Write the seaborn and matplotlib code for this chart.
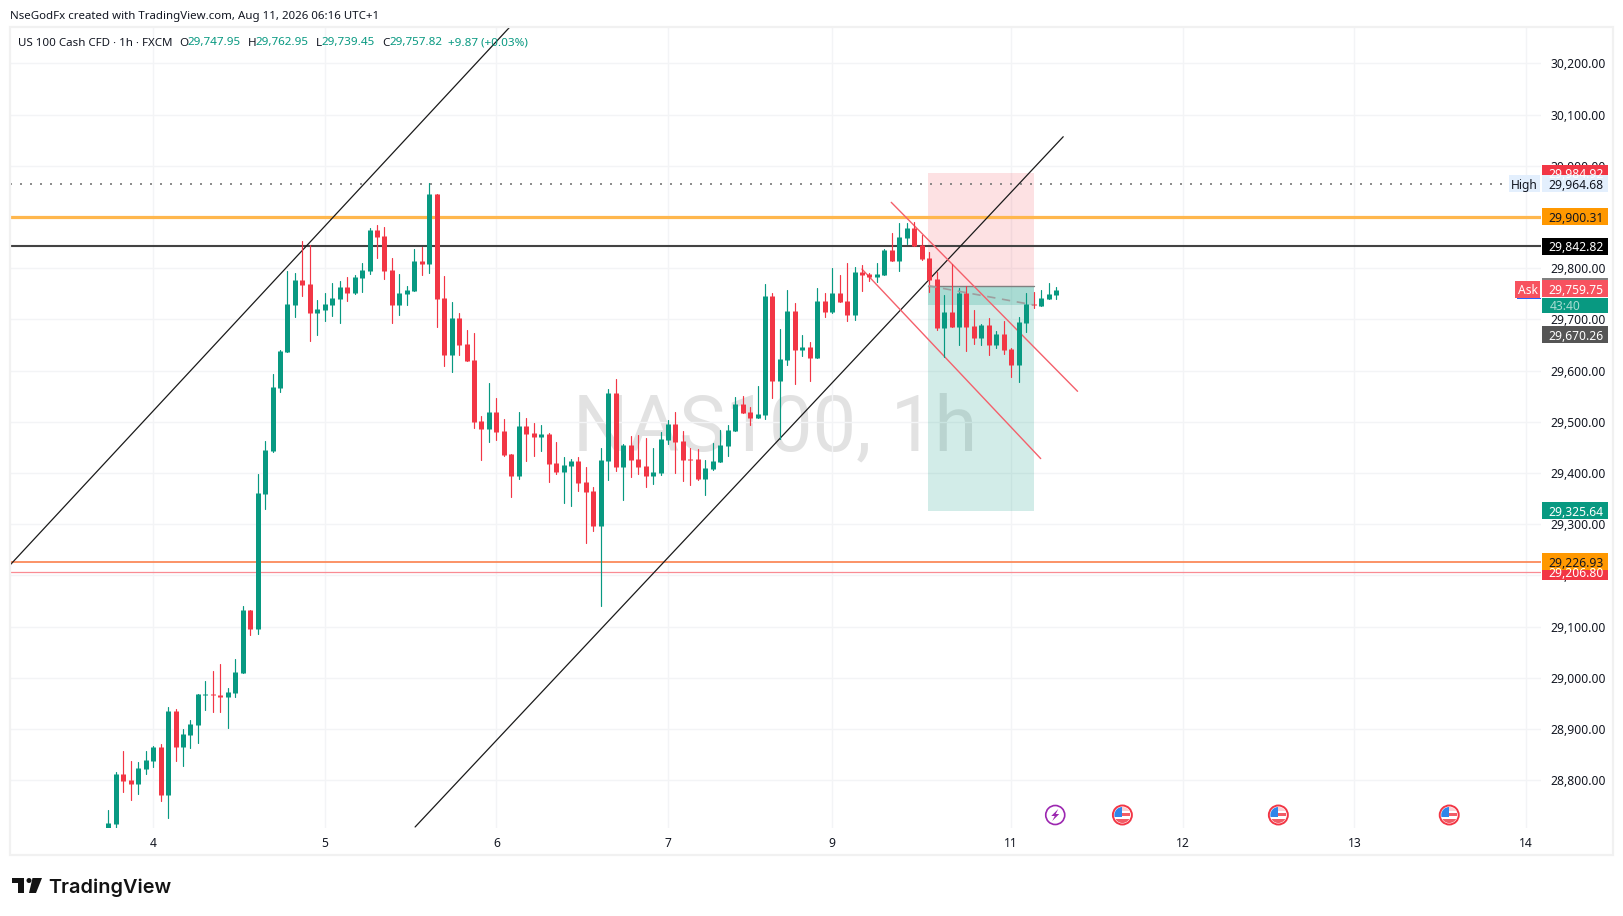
import pandas as pd
import seaborn as sns
import matplotlib
matplotlib.use("Agg")
import matplotlib.pyplot as plt
from matplotlib.patches import Rectangle, Circle, Polygon

sns.set_theme(style="white")
plt.rcParams["font.family"] = ["Noto Sans", "DejaVu Sans"]

UP = "#089981"
DOWN = "#f23645"
INK = "#131722"

# hourly candles
opens = [28704, 28714, 28812, 28800, 28792, 28822, 28837, 28865, 28771, 28935, 28865, 28888, 28908, 28966, 28968, 28966,
         28962, 28970, 29009, 29132, 29095, 29359, 29443, 29566, 29636, 29728, 29777, 29769, 29712, 29718, 29728, 29740,
         29763, 29751, 29781, 29794, 29874, 29863, 29796, 29728, 29749, 29755, 29814, 29808, 29945, 29742, 29630, 29702,
         29652, 29620, 29501, 29486, 29519, 29482, 29437, 29394, 29492, 29478, 29470, 29476, 29419, 29402, 29413, 29423,
         29382, 29365, 29296, 29423, 29556, 29411, 29454, 29427, 29413, 29394, 29400, 29464, 29496, 29462, 29427, 29427,
         29388, 29408, 29421, 29453, 29482, 29535, 29519, 29507, 29513, 29745, 29579, 29620, 29716, 29640, 29646, 29624,
         29736, 29714, 29751, 29736, 29708, 29792, 29789, 29783, 29787, 29835, 29814, 29859, 29878, 29845, 29820, 29779,
         29683, 29714, 29685, 29751, 29687, 29664, 29689, 29650, 29671, 29642, 29611, 29693, 29730, 29726, 29740, 29748]
highs = [28742, 28815, 28857, 28837, 28835, 28857, 28867, 28871, 28943, 28939, 28900, 28917, 28968, 28994, 29013, 29027,
         28980, 29037, 29140, 29132, 29398, 29462, 29593, 29640, 29794, 29790, 29853, 29845, 29738, 29751, 29771, 29775,
         29783, 29786, 29810, 29878, 29884, 29880, 29820, 29788, 29765, 29837, 29841, 29966, 29945, 29784, 29734, 29712,
         29679, 29673, 29511, 29576, 29546, 29505, 29437, 29519, 29507, 29497, 29494, 29478, 29460, 29431, 29427, 29431,
         29411, 29372, 29449, 29564, 29583, 29456, 29472, 29474, 29468, 29449, 29480, 29503, 29519, 29482, 29449, 29447,
         29425, 29458, 29484, 29494, 29548, 29550, 29529, 29570, 29769, 29751, 29681, 29757, 29732, 29669, 29656, 29761,
         29751, 29800, 29787, 29810, 29802, 29806, 29790, 29810, 29837, 29869, 29888, 29888, 29890, 29865, 29831, 29792,
         29747, 29808, 29761, 29765, 29718, 29691, 29703, 29677, 29697, 29644, 29705, 29751, 29753, 29757, 29771, 29763]
lows = [28704, 28704, 28777, 28761, 28773, 28812, 28826, 28759, 28726, 28837, 28828, 28863, 28872, 28937, 28933, 28933,
        28902, 28962, 29009, 29083, 29085, 29330, 29441, 29558, 29636, 29704, 29746, 29658, 29669, 29697, 29706, 29693,
        29736, 29749, 29753, 29788, 29820, 29779, 29693, 29708, 29728, 29755, 29786, 29790, 29685, 29609, 29597, 29630,
        29619, 29488, 29425, 29460, 29464, 29433, 29353, 29388, 29423, 29433, 29443, 29382, 29398, 29341, 29335, 29365,
        29263, 29287, 29140, 29386, 29404, 29347, 29392, 29398, 29372, 29378, 29396, 29456, 29400, 29384, 29376, 29386,
        29357, 29406, 29421, 29433, 29482, 29517, 29493, 29507, 29505, 29546, 29466, 29611, 29574, 29628, 29579, 29624,
        29704, 29712, 29734, 29697, 29699, 29755, 29775, 29773, 29787, 29814, 29794, 29847, 29843, 29816, 29753, 29679,
        29626, 29685, 29650, 29638, 29652, 29650, 29630, 29644, 29632, 29587, 29578, 29675, 29722, 29726, 29740, 29739]
closes = [28716, 28812, 28798, 28792, 28824, 28839, 28865, 28771, 28935, 28865, 28890, 28910, 28968, 28968, 28966, 28962,
          28972, 29011, 29132, 29095, 29361, 29445, 29568, 29638, 29730, 29777, 29767, 29712, 29720, 29730, 29742, 29763,
          29751, 29783, 29796, 29874, 29861, 29794, 29728, 29751, 29757, 29814, 29808, 29945, 29740, 29630, 29702, 29650,
          29619, 29499, 29486, 29519, 29480, 29435, 29394, 29492, 29476, 29470, 29476, 29417, 29402, 29415, 29423, 29380,
          29363, 29296, 29425, 29556, 29411, 29454, 29425, 29411, 29394, 29402, 29466, 29496, 29460, 29425, 29425, 29388,
          29410, 29423, 29454, 29484, 29535, 29517, 29507, 29515, 29745, 29579, 29622, 29716, 29640, 29646, 29624, 29736,
          29714, 29751, 29734, 29708, 29792, 29787, 29783, 29789, 29835, 29814, 29861, 29878, 29843, 29818, 29777, 29683,
          29714, 29685, 29751, 29685, 29664, 29689, 29650, 29671, 29640, 29611, 29695, 29730, 29728, 29742, 29749, 29758]

# date ticks sit on these bar numbers
date_bars = [6, 29, 52, 75, 97, 121, 144, 167, 190]
date_labels = ["4", "5", "6", "7", "9", "11", "12", "13", "14"]
price_ticks = list(range(28800, 30201, 100))

# horizontal levels
high_level = 29964.68
orange_top = 29900.31
black_level = 29842.82
orange_low = 29226.93
red_low = 29206.80

# drawings, bar number and price
trend_a_x, trend_a_y = [-13.18, 53.94], [29220, 30273]
trend_b_x, trend_b_y = [41.11, 127.97], [28708.5, 30056.6]
red_a_x, red_a_y = [104.92, 129.89], [29928.5, 29559.4]
red_b_x, red_b_y = [101.0, 124.95], [29798, 29428]

# short position tool
pos_x = [109.87, 124.03]
pos_stop = 29984.92
pos_entry = 29765.6
pos_now = 29728
pos_target = 29325.64

# event markers along the bottom (bar numbers)
flag_bars = [135.9, 156.8, 179.7]
bolt_bar = 126.9

# candles, long format so seaborn draws them one unit at a time
df = pd.DataFrame({"bar": range(len(opens)), "o": opens, "h": highs, "l": lows, "c": closes})
df["side"] = ["up" if c >= o else "down" for o, c in zip(df["o"], df["c"])]
wicks = df.melt(id_vars=["bar", "side"], value_vars=["h", "l"], value_name="price")
bodies = df.melt(id_vars=["bar", "side"], value_vars=["o", "c"], value_name="price")
colors = {"up": UP, "down": DOWN}

fig = plt.figure(figsize=(16.23, 9.16), dpi=100, facecolor="white")
ax = fig.add_axes([10 / 1623, 1 - 828 / 916, 1531 / 1623, 801 / 916])
ax.set_xlim(-13.18, 192.0)
ax.set_ylim(28706.5, 30270.9)
ax.set_axisbelow(True)
ax.grid(True, color="#f3f4f6", lw=1.0)
for s in ax.spines.values():
    s.set_visible(False)

ax.text(0.4997, 0.4985, "NAS100, 1h", transform=ax.transAxes, ha="center", va="center",
        fontsize=56, color="#e2e2e2", zorder=0, family="Roboto")

# position zones
ax.fill_between(pos_x, pos_entry, pos_stop, color="#f23645", alpha=0.15, lw=0, zorder=1)
ax.fill_between(pos_x, pos_target, pos_entry, color=UP, alpha=0.18, lw=0, zorder=1)
ax.fill_between(pos_x, pos_now, pos_entry, color=UP, alpha=0.2, lw=0, zorder=1)
ax.plot(pos_x, [pos_entry, pos_entry], color="#808080", lw=1, zorder=2)
ax.plot(pos_x, [pos_entry, pos_now], color="#9e9e9e", lw=1.2, ls=(0, (5, 4)), zorder=4)

# levels
ax.plot([-13.18, 187.8], [high_level, high_level], color="#787878", lw=1.2, ls=(0, (1.2, 4.8)), zorder=2)
ax.axhline(orange_top, color="#ffb74d", lw=2.3, zorder=2)
ax.axhline(black_level, color="#434343", lw=1.5, zorder=2)
ax.axhline(orange_low, color="#fb8a5a", lw=1.3, zorder=2)
ax.axhline(red_low, color="#f98b93", lw=0.9, zorder=2)

ax.plot(trend_a_x, trend_a_y, color="#1a1a1a", lw=0.9, zorder=2)
ax.plot(trend_b_x, trend_b_y, color="#1a1a1a", lw=0.9, zorder=2)
ax.plot(red_a_x, red_a_y, color="#f4606b", lw=1.0, zorder=2)
ax.plot(red_b_x, red_b_y, color="#f4606b", lw=1.0, zorder=2)

sns.lineplot(data=wicks, x="bar", y="price", hue="side", units="bar", estimator=None, palette=colors,
             sort=False, legend=False, lw=0.85, ax=ax, zorder=3)
sns.lineplot(data=bodies, x="bar", y="price", hue="side", units="bar", estimator=None, palette=colors,
             sort=False, legend=False, lw=3.6, solid_capstyle="butt", ax=ax, zorder=3)

ax.set_xlabel("")
ax.set_ylabel("")
ax.set_xticks(date_bars)
ax.set_xticklabels(date_labels)
ax.set_yticks(price_ticks)
ax.set_yticklabels([f"{p:,.2f}" for p in price_ticks])
ax.yaxis.tick_right()
ax.tick_params(axis="y", length=0, pad=6.5, labelsize=8.7, labelcolor=INK)
ax.tick_params(axis="x", length=0, pad=6.5, labelsize=8.7, labelcolor=INK)

# overlay in pixels for the chart furniture
ov = fig.add_axes([0, 0, 1, 1], zorder=5)
ov.set_xlim(0, 1623)
ov.set_ylim(916, 0)
ov.axis("off")
ov.patch.set_alpha(0)


def py(price):
    return 916 - ax.transData.transform((0, price))[1]


def bx(bar):
    return ax.transData.transform((bar, 0))[0]


ov.add_patch(Rectangle((10, 27), 1603, 828, fill=False, ec="#f1f1f1", lw=1.6))


def tag(price, text, face, color, bold=False, h=17):
    y = py(price)
    ov.add_patch(Rectangle((1542, y - h / 2), 66, h, fc=face, ec="none"))
    ov.text(1576, y, text, ha="center", va="center_baseline", fontsize=8.7, color=color,
            fontweight="bold" if bold else "normal", clip_on=True)


tag(pos_stop, "29,984.92", DOWN, "white")
tag(high_level, "29,964.68", "#e3effd", INK)
ov.add_patch(Rectangle((1509, py(high_level) - 8.5), 31, 17, fc="#e3effd", ec="none"))
ov.text(1524.5, py(high_level), "High", ha="center", va="center_baseline", fontsize=8.7, color=INK)
tag(orange_top, "29,900.31", "#ff9800", INK)
tag(black_level, "29,842.82", "black", "white", bold=True)

ov.add_patch(Rectangle((1542, 278), 66, 4, fc="#808080", ec="none"))
tag(29759.75, "29,759.75", "#f7525f", "white")
ov.add_patch(Rectangle((1515, 281), 25, 17, fc="#f7525f", ec="none"))
ov.add_patch(Rectangle((1517, 297.5), 24, 1.2, fc="#2962ff", ec="none"))
ov.text(1527.5, 289.5, "Ask", ha="center", va="center_baseline", fontsize=8.7, color="white")
ov.add_patch(Rectangle((1542, 298), 66, 15, fc=UP, ec="none"))
ov.text(1550, 304.5, "43:40", ha="left", va="center_baseline", fontsize=8.7, color="#a8dcd2")
tag(29670.26, "29,670.26", "#555555", "white")

tag(pos_target, "29,325.64", UP, "white")
tag(red_low, "29,206.80", DOWN, "white")
tag(orange_low, "29,226.93", "#ff9800", INK)

# header lines
ov.text(10, 15, "NseGodFx created with TradingView.com, Aug 11, 2026 06:16 UTC+1", fontsize=8.25,
        color=INK, va="center_baseline")
ov.text(18, 41.5, "US 100 Cash CFD · 1h · FXCM", fontsize=8.3, color=INK, va="center_baseline")
legend_bits = [(179, "O", INK), (187, "29,747.95", UP), (247.5, "H", INK), (255.5, "29,762.95", UP),
               (316, "L", INK), (322, "29,739.45", UP), (382, "C", INK), (389, "29,757.82", UP),
               (448, "+9.87 (+0.03%)", UP)]
for x0, s, col in legend_bits:
    ov.text(x0, 41.5, s, fontsize=8.4, color=col, va="center_baseline")

# TradingView logo
ov.add_patch(Polygon([(12, 878), (24, 878), (24, 893), (18, 893), (18, 883), (12, 883)], fc="#131313", ec="none"))
ov.add_patch(Circle((29, 880.5), 2.5, fc="#131313", ec="none"))
ov.add_patch(Polygon([(32.5, 878), (42, 878), (36, 893), (29, 893)], fc="#131313", ec="none"))
ov.text(48.5, 886, "TradingView", fontsize=14.3, fontweight="semibold", family="Inter", color="#131313",
        va="center_baseline")

# event icons
y_ev = 815
x_bolt = bx(bolt_bar)
ov.add_patch(Circle((x_bolt, y_ev), 9.5, fc="white", ec="#9c27b0", lw=1.2))
ov.add_patch(Polygon([(x_bolt + 3, y_ev - 6), (x_bolt - 4, y_ev + 1), (x_bolt - 0.5, y_ev + 1),
                      (x_bolt - 3, y_ev + 6), (x_bolt + 4, y_ev - 1), (x_bolt + 0.5, y_ev - 1)],
                     fc="#9c27b0", ec="none"))
for b in flag_bars:
    x_f = bx(b)
    rim = Circle((x_f, y_ev), 9.5, fc="white", ec="#f23645", lw=1.4)
    ov.add_patch(rim)
    inner = Circle((x_f, y_ev), 8, transform=ov.transData)
    for y0, h, x0, w, col in [(-8, 4, 0, 8, "#fbd0d3"), (-2.5, 3.5, 0, 8, "#f25c66"), (3.5, 4.5, -8, 16, "#f25c66"),
                              (-8, 10, -8, 8, "#2f86ea")]:
        r = Rectangle((x_f + x0, y_ev + y0), w, h, fc=col, ec="none")
        ov.add_patch(r)
        r.set_clip_path(inner)

fig.savefig("out.png", dpi=100, facecolor="white")
